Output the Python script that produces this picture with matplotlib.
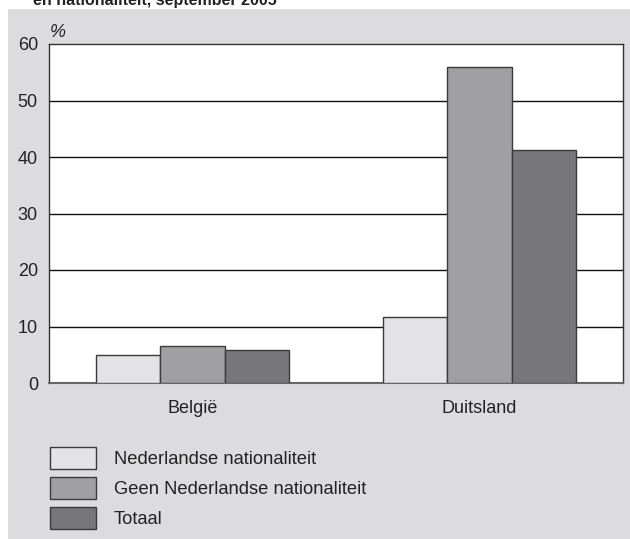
import numpy as np
import matplotlib.pyplot as plt
from matplotlib.patches import Rectangle

# data
landen = ["België", "Duitsland"]
series = ["Nederlandse nationaliteit", "Geen Nederlandse nationaliteit", "Totaal"]
ned = [5.0, 11.7]
geen_ned = [6.5, 55.9]
totaal = [5.8, 41.2]
yticks = [0, 10, 20, 30, 40, 50, 60]

colors = ["#e3e3e5", "#a0a0a2", "#77777a"]
bg = "#dcdcde"

plt.rcParams['font.family'] = ['Liberation Sans', 'DejaVu Sans']

fig = plt.figure(figsize=(6.30, 5.39), dpi=100)
fig.patches.append(Rectangle((8 / 630, 0), 1, 1 - 9 / 539, transform=fig.transFigure,
                             facecolor=bg, edgecolor='none', zorder=-10))

# title line is cut off at the top in the source too
fig.text(33 / 630, 1 - 5 / 539, "en nationaliteit, september 2005", fontsize=11.5,
         fontweight='bold', va='baseline', ha='left', color='#222222')

ax = fig.add_axes([49 / 630, 1 - 383 / 539, 574 / 630, 339 / 539])
ax.set_facecolor('white')

x = np.arange(len(landen))
w = 0.223
bars = []
for i, vals in enumerate([ned, geen_ned, totaal]):
    b = ax.bar(x + (i - 1) * w, vals, width=w, color=colors[i], edgecolor='#3a3a3a',
               linewidth=1.0, label=series[i], zorder=3)
    bars.append(b)

ax.set_xlim(-0.5, 1.5)
ax.set_ylim(0, 60)
ax.set_yticks(yticks)
ax.set_xticks(x)
ax.set_xticklabels(landen)
ax.tick_params(axis='both', length=0, labelsize=13, colors='#222222')
ax.tick_params(axis='y', pad=8)
ax.tick_params(axis='x', pad=12)
for y in yticks[1:-1]:
    ax.axhline(y, color='#111111', linewidth=1.0, zorder=1)
for s in ['left', 'top', 'right']:
    ax.spines[s].set_color('#333333')
    ax.spines[s].set_linewidth(1.0)
ax.spines['bottom'].set_color('#666666')
ax.spines['bottom'].set_linewidth(1.5)

fig.text(50 / 630, 1 - 37 / 539, "%", fontsize=13, style='italic', color='#222222')

fig.legend(handles=bars, labels=series, loc='upper left',
           bbox_to_anchor=(46 / 630, 1 - 443 / 539), frameon=False, fontsize=13.2,
           handlelength=2.5, handleheight=1.47, labelspacing=0.45, handletextpad=1.0,
           borderaxespad=0, borderpad=0.2, labelcolor='#222222')

fig.savefig("out.png", dpi=100, facecolor='white')
